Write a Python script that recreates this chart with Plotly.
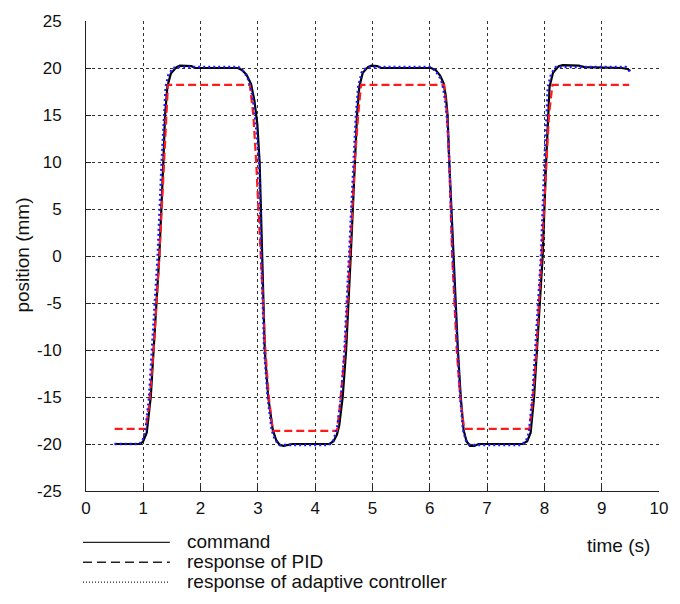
import plotly.graph_objects as go

# ---- data ----
cmd_t = [0.5, 0.95, 1.0, 1.06, 1.13, 1.18, 1.28, 1.35, 1.38, 1.42, 1.48, 1.58, 1.64, 1.84, 1.9,
         2.65, 2.72, 2.8, 2.88, 2.94, 2.99, 3.03, 3.07, 3.12, 3.18, 3.26, 3.32, 3.38, 3.45, 3.55, 3.6,
         4.25, 4.32, 4.38, 4.42, 4.48, 4.54, 4.62, 4.70, 4.73, 4.77, 4.83, 4.92, 4.98, 5.08, 5.15,
         6.02, 6.1, 6.18, 6.24, 6.28, 6.31, 6.34, 6.41, 6.49, 6.54, 6.59, 6.64, 6.7, 6.78, 6.85,
         7.62, 7.7, 7.76, 7.82, 7.87, 7.97, 8.03, 8.06, 8.09, 8.15, 8.25, 8.32, 8.6, 8.7,
         9.35, 9.45, 9.5]
cmd_y = [-20, -20, -19.7, -18.8, -15, -10, 0, 10, 15, 18, 19.4, 20.1, 20.25, 20.2, 20.0,
         20.0, 19.8, 19.3, 18.3, 16.5, 14, 10, 0, -10, -15, -18.5, -19.6, -20.1, -20.2, -20.1, -20.0,
         -20.0, -19.7, -19.0, -18, -15, -10, 0, 10, 15, 18, 19.5, 20.1, 20.25, 20.2, 20.0,
         20.0, 19.8, 19.2, 18.4, 17, 15, 10, 0, -10, -15, -18.5, -19.7, -20.2, -20.2, -20.0,
         -20.0, -19.7, -18.8, -15, -10, 0, 10, 15, 18, 19.5, 20.2, 20.3, 20.25, 20.1,
         20.0, 19.9, 19.7]

pid_t = [0.5, 1.04, 1.1, 1.18, 1.28, 1.36, 1.40, 1.43,
         2.86, 2.92, 2.97, 3.05, 3.13, 3.19, 3.26,
         4.38, 4.43, 4.52, 4.6, 4.69, 4.75, 4.80,
         6.25, 6.3, 6.34, 6.39, 6.47, 6.53, 6.6,
         7.74, 7.8, 7.86, 7.95, 8.03, 8.08, 8.14, 9.48]
pid_y = [-18.4, -18.4, -16, -10, 0, 10, 15, 18.2,
         18.2, 15, 10, 0, -10, -15, -18.6,
         -18.6, -16, -10, 0, 10, 15, 18.2,
         18.2, 15, 10, 0, -10, -15, -18.4,
         -18.4, -15, -10, 0, 10, 15, 18.2, 18.2]

ada_t = [0.5, 0.93, 0.99, 1.04, 1.1, 1.15, 1.25, 1.32, 1.36, 1.39, 1.44, 1.52, 1.6,
         2.66, 2.74, 2.82, 2.88, 2.93, 2.98, 3.02, 3.06, 3.11, 3.17, 3.24, 3.3, 3.38,
         4.24, 4.3, 4.35, 4.39, 4.45, 4.51, 4.59, 4.67, 4.71, 4.75, 4.81, 4.9,
         6.0, 6.08, 6.16, 6.22, 6.27, 6.31, 6.34, 6.4, 6.48, 6.53, 6.58, 6.63, 6.7,
         7.6, 7.68, 7.73, 7.79, 7.84, 7.94, 8.0, 8.03, 8.06, 8.12, 8.2,
         9.42, 9.47, 9.5]
ada_y = [-20, -20, -19.6, -18.5, -15, -10, 0, 10, 15, 18, 19.3, 20.0, 20.1,
         20.1, 19.7, 19.0, 17.8, 16, 13, 10, 0, -10, -15, -18.5, -19.6, -20.1,
         -20.1, -19.8, -19.0, -18, -15, -10, 0, 10, 15, 18, 19.5, 20.1,
         20.1, 19.8, 19.2, 18.3, 16.5, 14, 10, 0, -10, -15, -18.5, -19.6, -20.1,
         -20.1, -19.7, -18.8, -15, -10, 0, 10, 15, 18, 19.4, 20.1,
         20.1, 19.8, 19.4]

x_ticks = [0, 1, 2, 3, 4, 5, 6, 7, 8, 9, 10]
x_ticktext = ["0", "1", "2", "3", "4", "5", "6", "7", "8", "9", "10"]
y_ticks = [-25, -20, -15, -10, -5, 0, 5, 10, 15, 20, 25]
y_ticktext = ["-25", "-20", "-15", "-10", "-5", "0", "5", "10", "15", "20", "25"]
legend_labels = ["command", "response of PID", "response of adaptive controller"]

FONT = "Liberation Sans, Arial, sans-serif"

fig = go.Figure()
fig.add_trace(go.Scatter(x=cmd_t, y=cmd_y, mode="lines", name=legend_labels[0],
                         line=dict(color="#000000", width=2.2)))
fig.add_trace(go.Scatter(x=pid_t, y=pid_y, mode="lines", name=legend_labels[1],
                         line=dict(color="#ff1a1a", width=2.2, dash="8px,4px")))
fig.add_trace(go.Scatter(x=ada_t, y=ada_y, mode="lines", name=legend_labels[2],
                         line=dict(color="#1a1aff", width=2.4, dash="2px,3px")))

# plot area in pixels
W, H = 680, 604
L, R, T, B = 86, 20, 16, 113
pw, ph = W - L - R, H - T - B

def px(xp):
    return (xp - L) / pw

def py(yp):
    return (H - B - yp) / ph

shapes = []
annotations = []
rows_y = [543, 563, 583]
dashes = ["solid", "9px,5px", "1px,2px"]
widths = [1.3, 1.3, 1.2]
for lab, yy, d, w in zip(legend_labels, rows_y, dashes, widths):
    shapes.append(dict(type="line", xref="paper", yref="paper",
                       x0=px(83), x1=px(170), y0=py(yy), y1=py(yy),
                       line=dict(color="#222222", width=w, dash=d)))
    annotations.append(dict(text=lab, xref="paper", yref="paper", x=px(185), y=py(yy - 1),
                            xanchor="left", yanchor="middle", showarrow=False,
                            font=dict(family=FONT, size=19, color="#111111")))

annotations.append(dict(text="time (s)", xref="paper", yref="paper", x=px(653), y=py(546),
                        xanchor="right", yanchor="middle", showarrow=False,
                        font=dict(family=FONT, size=19, color="#111111")))
annotations.append(dict(text="position (mm)", xref="paper", yref="paper", x=px(22), y=py(253),
                        xanchor="center", yanchor="middle", textangle=-90, showarrow=False,
                        font=dict(family=FONT, size=19, color="#111111")))

fig.update_layout(
    width=W, height=H,
    margin=dict(l=L, r=R, t=T, b=B),
    paper_bgcolor="white", plot_bgcolor="white",
    showlegend=False,
    shapes=shapes, annotations=annotations,
    font=dict(family=FONT, size=18, color="#111111"),
)
fig.update_xaxes(range=[0, 10], tickvals=x_ticks, ticktext=x_ticktext,
                 ticks="inside", ticklen=5, tickcolor="#222", ticklabelstandoff=2,
                 showline=True, linecolor="#222", linewidth=1, mirror=False,
                 showgrid=True, gridcolor="#333", gridwidth=1, griddash="dot",
                 zeroline=False, tickfont=dict(family=FONT, size=17))
fig.update_yaxes(range=[-25, 25], tickvals=y_ticks, ticktext=y_ticktext,
                 ticks="inside", ticklen=5, tickcolor="#222", ticklabelstandoff=20,
                 showline=True, linecolor="#222", linewidth=1, mirror=False,
                 showgrid=True, gridcolor="#333", gridwidth=1, griddash="dot",
                 zeroline=False, tickfont=dict(family=FONT, size=17))

fig.write_html("out.html")
